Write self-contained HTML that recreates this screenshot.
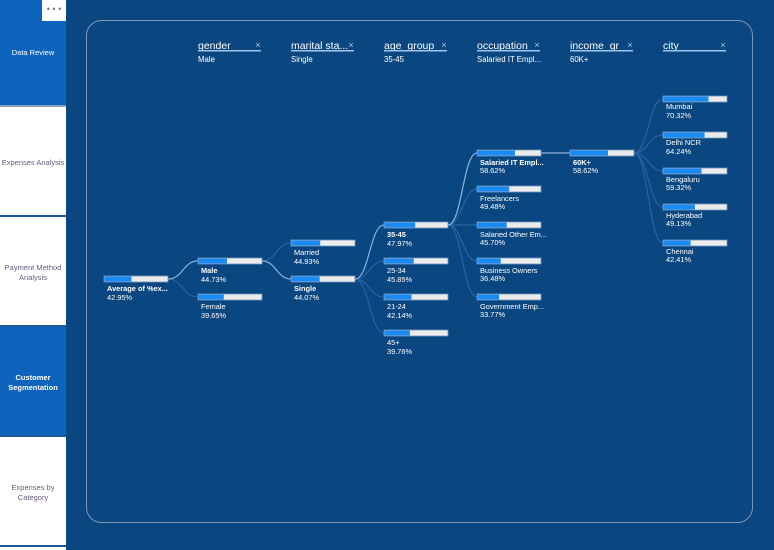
<!DOCTYPE html>
<html><head><meta charset="utf-8"><style>
html,body{margin:0;padding:0;width:774px;height:550px;overflow:hidden;background:#0a4780;font-family:"Liberation Sans",sans-serif}
</style></head><body>
<svg width="774" height="550" xmlns="http://www.w3.org/2000/svg" font-family="Liberation Sans, sans-serif">
<rect width="774" height="550" fill="#0a4780"/>
<rect x="0" y="0" width="66" height="550" fill="#ffffff"/>
<rect x="0" y="0" width="66" height="105" fill="#0e64bd"/>
<rect x="0" y="327" width="66" height="108" fill="#0e64bd"/>
<rect x="0" y="105" width="66" height="2" fill="#8aa0b8"/>
<rect x="0" y="215" width="66" height="2" fill="#1a5a9a"/>
<rect x="0" y="325" width="66" height="2" fill="#1a5a9a"/>
<rect x="0" y="435" width="66" height="2" fill="#1a5a9a"/>
<rect x="0" y="545" width="66" height="2" fill="#1a5a9a"/>
<rect x="42" y="0" width="24" height="21" fill="#ffffff"/>
<text x="54" y="12" font-size="9" fill="#777" text-anchor="middle">• • •</text>
<g font-size="7.5" text-anchor="middle">
<text x="33" y="55" fill="#fff">Data Review</text>
<text x="33" y="165" fill="#6a5a80">Expenses Analysis</text>
<text x="33" y="270" fill="#6a5a80">Payment Method</text>
<text x="33" y="280" fill="#6a5a80">Analysis</text>
<text x="33" y="380" fill="#fff" font-weight="bold">Customer</text>
<text x="33" y="390" fill="#fff" font-weight="bold">Segmentation</text>
<text x="33" y="490" fill="#6a5a80">Expenses by</text>
<text x="33" y="500" fill="#6a5a80">Category</text>
</g>
<rect x="86.5" y="20.5" width="666" height="502" rx="15" fill="none" stroke="#8096b0" stroke-width="1"/>
<g font-size="10.5" fill="#fff">
<text x="198" y="49">gender</text>
<text x="291" y="49">marital sta...</text>
<text x="384" y="49">age_group</text>
<text x="477" y="49">occupation</text>
<text x="570" y="49">income_gr</text>
<text x="663" y="49">city</text>
</g>
<g fill="#9ec6ee">
<rect x="198" y="50" width="63" height="1.5"/>
<rect x="291" y="50" width="63" height="1.5"/>
<rect x="384" y="50" width="63" height="1.5"/>
<rect x="477" y="50" width="63" height="1.5"/>
<rect x="570" y="50" width="63" height="1.5"/>
<rect x="663" y="50" width="63" height="1.5"/>
</g>
<g font-size="9" fill="#b8c8dc" text-anchor="middle">
<text x="258" y="48">×</text><text x="351" y="48">×</text><text x="444" y="48">×</text>
<text x="537" y="48">×</text><text x="630" y="48">×</text><text x="723" y="48">×</text>
</g>
<g font-size="7.8" fill="#fff">
<text x="198" y="62">Male</text><text x="291" y="62">Single</text><text x="384" y="62">35-45</text>
<text x="477" y="62">Salaried IT Empl...</text><text x="570" y="62">60K+</text>
</g>
<g fill="none" stroke-width="1.2">
<g stroke="#2565a8">
<path d="M168 279 C183 279,183 297,198 297"/>
<path d="M262 261 C276 261,277 243,291 243"/>
<path d="M355 279 C369 279,370 261,384 261"/>
<path d="M355 279 C369 279,370 297,384 297"/>
<path d="M355 279 C369 279,370 333,384 333"/>
<path d="M448 225 C462 225,463 189,477 189"/>
<path d="M448 225 L477 225"/>
<path d="M448 225 C462 225,463 261,477 261"/>
<path d="M448 225 C462 225,463 297,477 297"/>
<path d="M634 153 C648 153,649 99,663 99"/>
<path d="M634 153 C648 153,649 135,663 135"/>
<path d="M634 153 C648 153,649 171,663 171"/>
<path d="M634 153 C648 153,649 207,663 207"/>
<path d="M634 153 C648 153,649 243,663 243"/>
</g>
<g stroke="#8db3dc">
<path d="M168 279 C183 279,183 261,198 261"/>
<path d="M262 261 C276 261,277 279,291 279"/>
<path d="M355 279 C369 279,370 225,384 225"/>
<path d="M448 225 C462 225,463 153,477 153"/>
<path d="M541 153 L570 153"/>
</g>
</g>
<g stroke="#6f95c0" stroke-width="0.8">
<rect x="104" y="276" width="64" height="6" fill="#ececec"/>
<rect x="198" y="258" width="64" height="6" fill="#ececec"/>
<rect x="198" y="294" width="64" height="6" fill="#ececec"/>
<rect x="291" y="240" width="64" height="6" fill="#ececec"/>
<rect x="291" y="276" width="64" height="6" fill="#ececec"/>
<rect x="384" y="222" width="64" height="6" fill="#ececec"/>
<rect x="384" y="258" width="64" height="6" fill="#ececec"/>
<rect x="384" y="294" width="64" height="6" fill="#ececec"/>
<rect x="384" y="330" width="64" height="6" fill="#ececec"/>
<rect x="477" y="150" width="64" height="6" fill="#ececec"/>
<rect x="477" y="186" width="64" height="6" fill="#ececec"/>
<rect x="477" y="222" width="64" height="6" fill="#ececec"/>
<rect x="477" y="258" width="64" height="6" fill="#ececec"/>
<rect x="477" y="294" width="64" height="6" fill="#ececec"/>
<rect x="570" y="150" width="64" height="6" fill="#ececec"/>
<rect x="663" y="96" width="64" height="6" fill="#ececec"/>
<rect x="663" y="132" width="64" height="6" fill="#ececec"/>
<rect x="663" y="168" width="64" height="6" fill="#ececec"/>
<rect x="663" y="204" width="64" height="6" fill="#ececec"/>
<rect x="663" y="240" width="64" height="6" fill="#ececec"/>
</g>
<g fill="#1a8af5">
<rect x="104.5" y="276.5" width="27" height="5"/>
<rect x="198.5" y="258.5" width="28.5" height="5"/>
<rect x="198.5" y="294.5" width="25.3" height="5"/>
<rect x="291.5" y="240.5" width="28.7" height="5"/>
<rect x="291.5" y="276.5" width="28.2" height="5"/>
<rect x="384.5" y="222.5" width="30.7" height="5"/>
<rect x="384.5" y="258.5" width="29.3" height="5"/>
<rect x="384.5" y="294.5" width="27" height="5"/>
<rect x="384.5" y="330.5" width="25.4" height="5"/>
<rect x="477.5" y="150.5" width="37.5" height="5"/>
<rect x="477.5" y="186.5" width="31.7" height="5"/>
<rect x="477.5" y="222.5" width="29.2" height="5"/>
<rect x="477.5" y="258.5" width="23.3" height="5"/>
<rect x="477.5" y="294.5" width="21.6" height="5"/>
<rect x="570.5" y="150.5" width="37.5" height="5"/>
<rect x="663.5" y="96.5" width="45" height="5"/>
<rect x="663.5" y="132.5" width="41.1" height="5"/>
<rect x="663.5" y="168.5" width="38" height="5"/>
<rect x="663.5" y="204.5" width="31.4" height="5"/>
<rect x="663.5" y="240.5" width="27.1" height="5"/>
</g>
<g font-size="7.4" fill="#fff">
<text x="107" y="291" font-weight="bold">Average of %ex...</text><text x="107" y="300">42.95%</text>
<text x="201" y="273" font-weight="bold">Male</text><text x="201" y="282">44.73%</text>
<text x="201" y="309">Female</text><text x="201" y="318">39.65%</text>
<text x="294" y="255">Married</text><text x="294" y="264">44.93%</text>
<text x="294" y="291" font-weight="bold">Single</text><text x="294" y="300">44.07%</text>
<text x="387" y="237" font-weight="bold">35-45</text><text x="387" y="246">47.97%</text>
<text x="387" y="273">25-34</text><text x="387" y="282">45.85%</text>
<text x="387" y="309">21-24</text><text x="387" y="318">42.14%</text>
<text x="387" y="345">45+</text><text x="387" y="354">39.76%</text>
<text x="480" y="165" font-weight="bold">Salaried IT Empl...</text><text x="480" y="173">58.62%</text>
<text x="480" y="201">Freelancers</text><text x="480" y="209">49.48%</text>
<text x="480" y="237">Salaried Other Em...</text><text x="480" y="245">45.70%</text>
<text x="480" y="273">Business Owners</text><text x="480" y="281">36.48%</text>
<text x="480" y="309">Government Emp...</text><text x="480" y="317">33.77%</text>
<text x="573" y="165" font-weight="bold">60K+</text><text x="573" y="173">58.62%</text>
<text x="666" y="109">Mumbai</text><text x="666" y="118">70.32%</text>
<text x="666" y="145">Delhi NCR</text><text x="666" y="154">64.24%</text>
<text x="666" y="182">Bengaluru</text><text x="666" y="190">59.32%</text>
<text x="666" y="218">Hyderabad</text><text x="666" y="226">49.13%</text>
<text x="666" y="254">Chennai</text><text x="666" y="262">42.41%</text>
</g>
</svg>
</body></html>
